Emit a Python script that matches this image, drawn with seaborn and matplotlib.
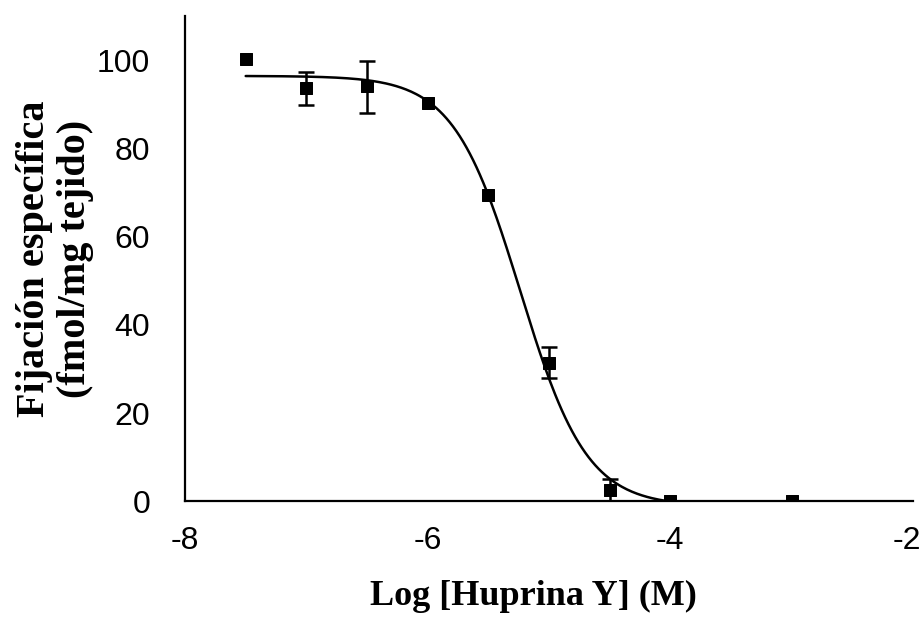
import numpy as np
import pandas as pd
import matplotlib
matplotlib.use("Agg")
import matplotlib.pyplot as plt
import matplotlib.transforms as mtransforms
import seaborn as sns

# Data
log_conc = [-7.5, -7.0, -6.5, -6.0, -5.5, -5.0, -4.5, -4.0, -3.0]
binding = [100.5, 93.8, 94.2, 90.5, 69.5, 31.4, 2.5, 0.0, 0.0]
err_up = [0.0, 3.8, 5.9, 0.0, 0.0, 3.5, 2.4, 0.0, 0.0]
err_down = [0.0, 3.8, 6.1, 0.0, 0.0, 3.5, 2.4, 0.0, 0.0]

# Fitted sigmoid parameters
fit_top = 96.6
fit_bottom = -1.2
fit_logic50 = -5.237
fit_hill = 1.58
fit_range = (-7.5, -2.0)

x_ticks = [-8, -6, -4, -2]
y_ticks = [0, 20, 40, 60, 80, 100]

sns.set_style("white")
plt.rcParams['font.family'] = ['Liberation Sans', 'DejaVu Sans']
plt.rcParams['text.color'] = 'black'
plt.rcParams['axes.labelcolor'] = 'black'

fig = plt.figure(figsize=(9.21, 6.18), dpi=100)
ax = fig.add_axes([0.2009, 0.1893, 0.7904, 0.7847])

xc = np.linspace(fit_range[0], fit_range[1], 400)
yc = fit_bottom + (fit_top - fit_bottom) / (1 + 10 ** ((xc - fit_logic50) * fit_hill))
curve = pd.DataFrame({"x": xc, "y": yc})
sns.lineplot(data=curve, x="x", y="y", ax=ax, color="black", lw=1.8, zorder=3)

df = pd.DataFrame({"x": log_conc, "y": binding, "lo": err_down, "hi": err_up})
eb = df[(df["lo"] > 0) | (df["hi"] > 0)]
ax.errorbar(eb["x"], eb["y"], yerr=[eb["lo"], eb["hi"]], fmt="none",
            ecolor="black", elinewidth=1.8, capsize=6, capthick=1.8, zorder=4)
sns.scatterplot(data=df, x="x", y="y", ax=ax, marker="s", s=80,
                color="black", edgecolor="black", zorder=5)

ax.set_xlim(-8, -2)
ax.set_ylim(0, 110.2)
ax.set_xticks(x_ticks)
ax.set_yticks(y_ticks)
ax.set_xticklabels([str(t) for t in x_ticks])
ax.set_yticklabels([str(t) for t in y_ticks])

for side in ["top", "right"]:
    ax.spines[side].set_visible(False)
for side in ["left", "bottom"]:
    ax.spines[side].set_linewidth(1.6)
    ax.spines[side].set_color("black")

ax.tick_params(axis="both", direction="out", length=10, width=1.6,
               labelsize=23, colors="black")
ax.tick_params(axis="y", pad=15)
ax.tick_params(axis="x", pad=8)

# nudge the last x tick label left so it stays mostly inside the figure
last = ax.get_xticklabels()[-1]
last.set_transform(last.get_transform() +
                   mtransforms.ScaledTranslation(-6 / 100, 0, fig.dpi_scale_trans))

ax.set_xlabel("Log [Huprina Y] (M)", fontsize=26, fontweight="bold",
              family=["Liberation Serif"], color="black")
ax.xaxis.set_label_coords(0.479, -0.163)
ax.set_ylabel("Fijación específica\n(fmol/mg tejido)", fontsize=29,
              fontweight="bold", family=["Liberation Serif"],
              linespacing=1.15, color="black")
ax.yaxis.set_label_coords(-0.125, 0.5)

fig.savefig("out.png", dpi=100)
